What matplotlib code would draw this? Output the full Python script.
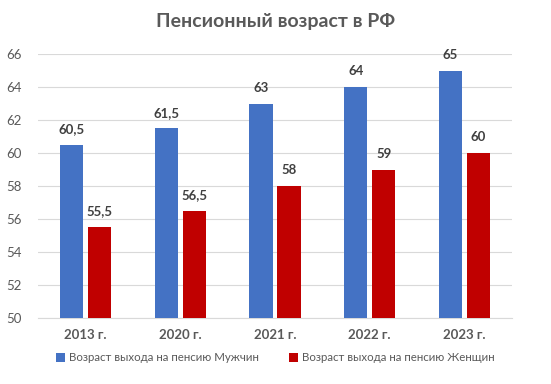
import matplotlib.pyplot as plt
import numpy as np

plt.rcParams['font.family'] = ['Lato', 'DejaVu Sans']

years = ['2013 г.', '2020 г.', '2021 г.', '2022 г.', '2023 г.']
men = [60.5, 61.5, 63, 64, 65]
women = [55.5, 56.5, 58, 59, 60]
men_label = 'Возраст выхода на пенсию Мужчин'
women_label = 'Возраст выхода на пенсию Женщин'

fig = plt.figure(figsize=(5.51, 3.84), dpi=100)
ax = fig.add_axes([0.069, 0.172, 0.86, 0.687])

x = np.arange(len(years))
w = 0.245
off = 0.148
b1 = ax.bar(x - off, men, w, bottom=0, color='#4472C4', label=men_label, zorder=3)
b2 = ax.bar(x + off, women, w, bottom=0, color='#C00000', label=women_label, zorder=3)

def fmt(v):
    return ('%g' % v).replace('.', ',')

for bars, vals in [(b1, men), (b2, women)]:
    for r, v in zip(bars, vals):
        ax.annotate(fmt(v), (r.get_x() + r.get_width() / 2, v), xytext=(0, 7),
                    textcoords='offset points', ha='center', va='bottom',
                    fontsize=9.5, fontweight='bold', color='#404040')

ax.set_ylim(50, 66)
ax.set_yticks(range(50, 67, 2))
ax.set_xlim(-0.5, len(years) - 0.5)
ax.set_xticks(x)
ax.set_xticklabels(years, fontweight='bold')
ax.grid(axis='y', color='#D9D9D9', linewidth=0.8, zorder=0)
for s in ['top', 'right', 'left']:
    ax.spines[s].set_visible(False)
ax.spines['bottom'].set_color('#D9D9D9')
ax.tick_params(axis='both', length=0, colors='#595959', labelsize=9.5)
ax.tick_params(axis='x', pad=8)
ax.tick_params(axis='y', pad=12)

fig.suptitle('Пенсионный возраст в РФ', y=0.965, fontsize=14, fontweight='bold', color='#595959')

fig.legend(loc='center', bbox_to_anchor=(0.5, 0.068), ncol=2, frameon=False,
           fontsize=8.3, handlelength=0.75, handleheight=0.75, handletextpad=0.4,
           columnspacing=2.6, labelcolor='#595959')

fig.savefig('out.png', dpi=100)
